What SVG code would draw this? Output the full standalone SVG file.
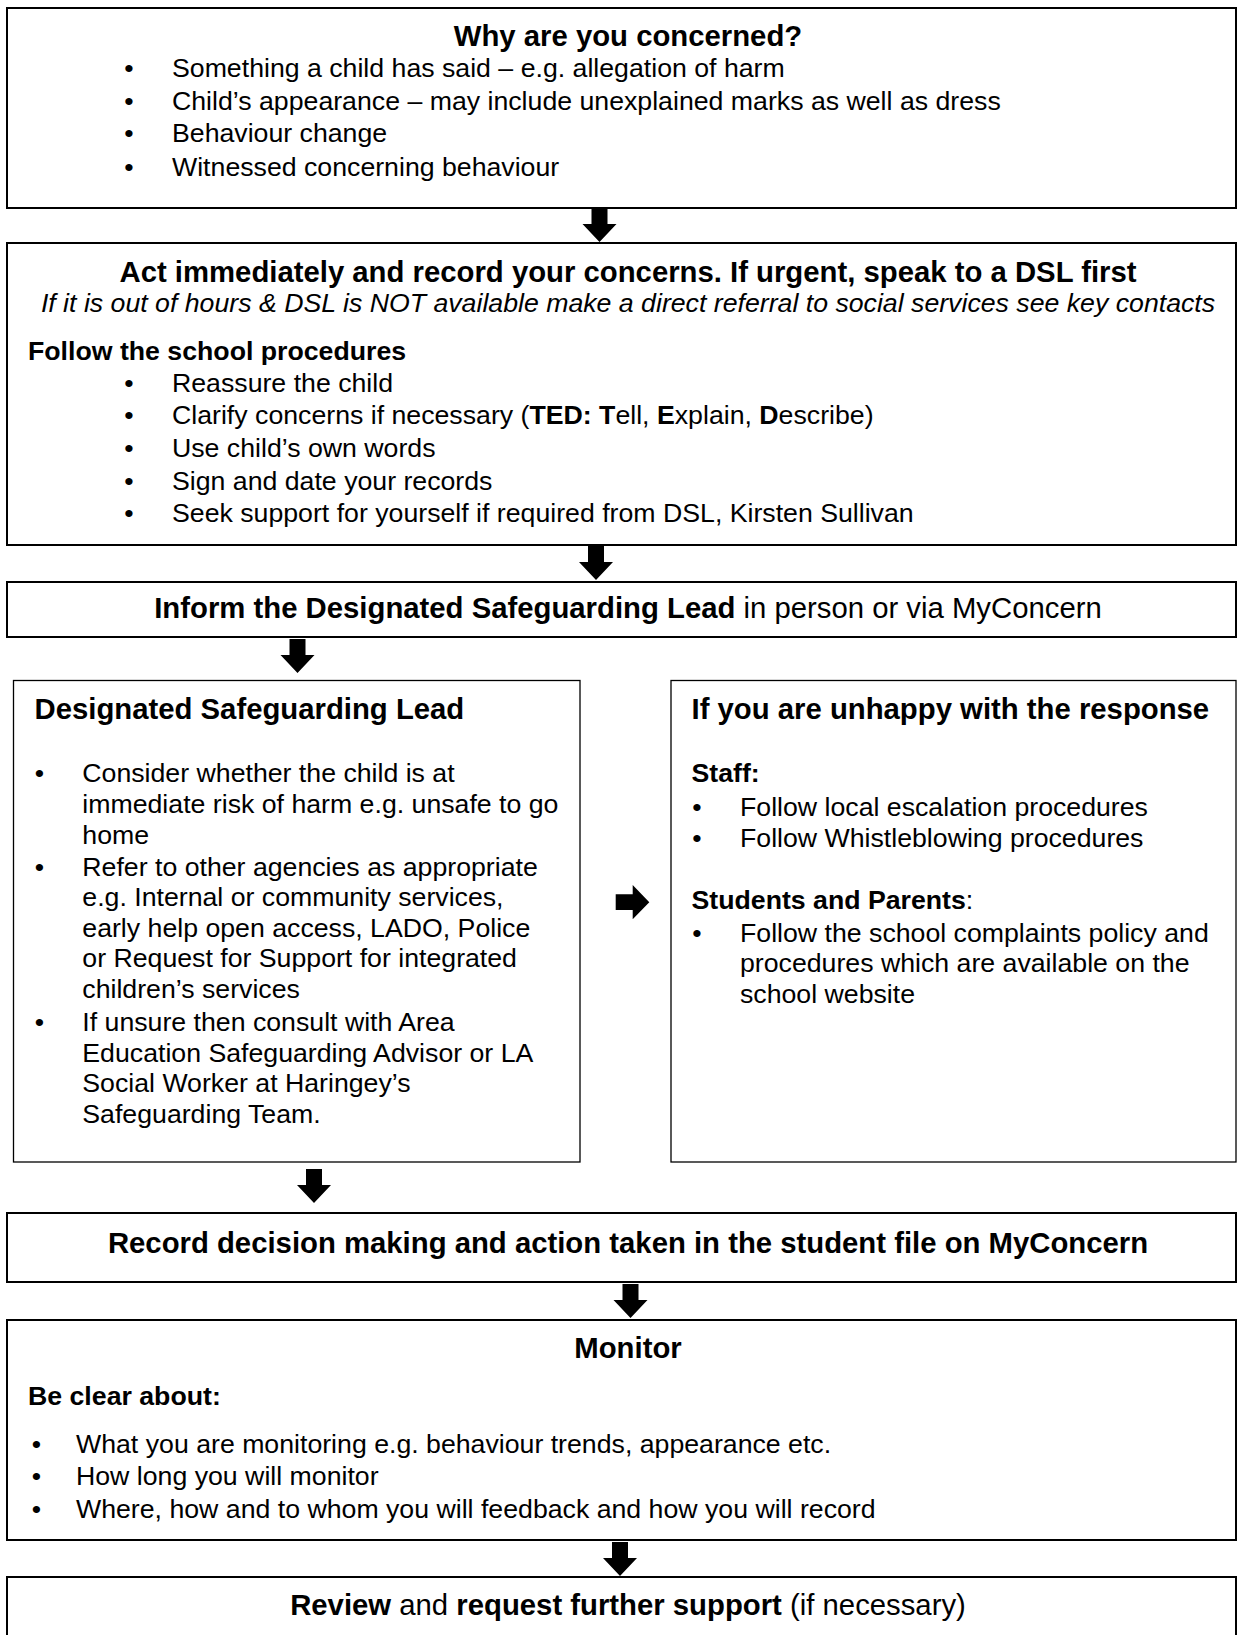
<svg xmlns="http://www.w3.org/2000/svg" width="1238" height="1635" viewBox="0 0 1238 1635">
<style>
text{font-family:"Liberation Sans",Arial,sans-serif;fill:#000}
.b{font-size:26.7px}
.h{font-size:29.3px;font-weight:bold}
.hb{font-size:26.7px;font-weight:bold}
.bold{font-weight:bold}
.it{font-size:26.7px;font-style:italic}
.c{text-anchor:middle}
.box{fill:#fff;stroke:#000;stroke-width:2}
.box2{fill:#fff;stroke:#000;stroke-width:1.3}
.arrow{fill:#000}
</style>
<defs>
<path id="down" d="M-8,0 H8 V16 H17 L0,34 L-17,16 H-8 Z"/>
</defs>
<rect width="1238" height="1635" fill="#fff"/>

<g id="n1">
<rect class="box" x="7" y="8" width="1229" height="200"/>
<text class="h c" x="628" y="46">Why are you concerned?</text>
<text class="b" x="124.3" y="77">•<tspan x="172">Something a child has said – e.g. allegation of harm</tspan></text>
<text class="b" x="124.3" y="110">•<tspan x="172">Child’s appearance – may include unexplained marks as well as dress</tspan></text>
<text class="b" x="124.3" y="142">•<tspan x="172">Behaviour change</tspan></text>
<text class="b" x="124.3" y="176">•<tspan x="172">Witnessed concerning behaviour</tspan></text>
</g>

<g id="n2">
<rect class="box" x="7" y="243" width="1229" height="302"/>
<text class="h c" x="628" y="282">Act immediately and record your concerns. If urgent, speak to a DSL first</text>
<text class="it c" x="628" y="312">If it is out of hours &amp; DSL is NOT available make a direct referral to social services see key contacts</text>
<text class="hb" x="28" y="360">Follow the school procedures</text>
<text class="b" x="124.3" y="392">•<tspan x="172">Reassure the child</tspan></text>
<text class="b" x="124.3" y="424">•<tspan x="172">Clarify concerns if necessary (</tspan><tspan class="bold">TED: T</tspan>ell, <tspan class="bold">E</tspan>xplain, <tspan class="bold">D</tspan>escribe)</text>
<text class="b" x="124.3" y="457">•<tspan x="172">Use child’s own words</tspan></text>
<text class="b" x="124.3" y="490">•<tspan x="172">Sign and date your records</tspan></text>
<text class="b" x="124.3" y="522">•<tspan x="172">Seek support for yourself if required from DSL, Kirsten Sullivan</tspan></text>
</g>

<g id="n3">
<rect class="box" x="7" y="582" width="1229" height="55"/>
<text class="c" x="628" y="618" font-size="29.3"><tspan class="bold">Inform the Designated Safeguarding Lead</tspan> in person or via MyConcern</text>
</g>

<g id="n4">
<rect class="box2" x="13.5" y="680.5" width="566.5" height="481.5"/>
<text class="h" x="34.5" y="719">Designated Safeguarding Lead</text>
<text class="b" x="34.8" y="782">•<tspan x="82.3">Consider whether the child is at</tspan></text>
<text class="b" x="82.3" y="813">immediate risk of harm e.g. unsafe to go</text>
<text class="b" x="82.3" y="843.5">home</text>
<text class="b" x="34.8" y="876">•<tspan x="82.3">Refer to other agencies as appropriate</tspan></text>
<text class="b" x="82.3" y="906">e.g. Internal or community services,</text>
<text class="b" x="82.3" y="936.5">early help open access, LADO, Police</text>
<text class="b" x="82.3" y="967">or Request for Support for integrated</text>
<text class="b" x="82.3" y="997.5">children’s services</text>
<text class="b" x="34.8" y="1031">•<tspan x="82.3">If unsure then consult with Area</tspan></text>
<text class="b" x="82.3" y="1061.5">Education Safeguarding Advisor or LA</text>
<text class="b" x="82.3" y="1092">Social Worker at Haringey’s</text>
<text class="b" x="82.3" y="1122.5">Safeguarding Team.</text>
</g>

<g id="n5">
<rect class="box2" x="671" y="680.5" width="565" height="481.5"/>
<text class="h" x="691.5" y="719">If you are unhappy with the response</text>
<text class="hb" x="691.5" y="782">Staff:</text>
<text class="b" x="692.3" y="816">•<tspan x="740">Follow local escalation procedures</tspan></text>
<text class="b" x="692.3" y="846.5">•<tspan x="740">Follow Whistleblowing procedures</tspan></text>
<text class="hb" x="691.5" y="909">Students and Parents<tspan font-weight="normal">:</tspan></text>
<text class="b" x="692.3" y="942">•<tspan x="740">Follow the school complaints policy and</tspan></text>
<text class="b" x="740" y="972">procedures which are available on the</text>
<text class="b" x="740" y="1003">school website</text>
</g>

<g id="n6">
<rect class="box" x="7" y="1213" width="1229" height="69"/>
<text class="h c" x="628" y="1253">Record decision making and action taken in the student file on MyConcern</text>
</g>

<g id="n7">
<rect class="box" x="7" y="1320" width="1229" height="220"/>
<text class="h c" x="628" y="1358">Monitor</text>
<text class="hb" x="28" y="1405">Be clear about:</text>
<text class="b" x="31.8" y="1453">•<tspan x="76">What you are monitoring e.g. behaviour trends, appearance etc.</tspan></text>
<text class="b" x="31.8" y="1485">•<tspan x="76">How long you will monitor</tspan></text>
<text class="b" x="31.8" y="1518">•<tspan x="76">Where, how and to whom you will feedback and how you will record</tspan></text>
</g>

<g id="n8">
<rect class="box" x="7" y="1577" width="1229" height="80"/>
<text class="c" x="628" y="1615" font-size="29.3"><tspan class="bold">Review</tspan> and <tspan class="bold">request further support</tspan> (if necessary)</text>
</g>

<g id="connectors">
<use href="#down" class="arrow" x="599.5" y="208"/>
<use href="#down" class="arrow" x="596" y="546"/>
<use href="#down" class="arrow" x="297.5" y="639"/>
<use href="#down" class="arrow" x="314" y="1169"/>
<use href="#down" class="arrow" x="630.5" y="1284"/>
<use href="#down" class="arrow" x="620" y="1542"/>
<path class="arrow" d="M615.7,894.3 H632.7 V885 L649.3,902.3 L632.7,919.3 V910 H615.7 Z"/>
</g>
</svg>
